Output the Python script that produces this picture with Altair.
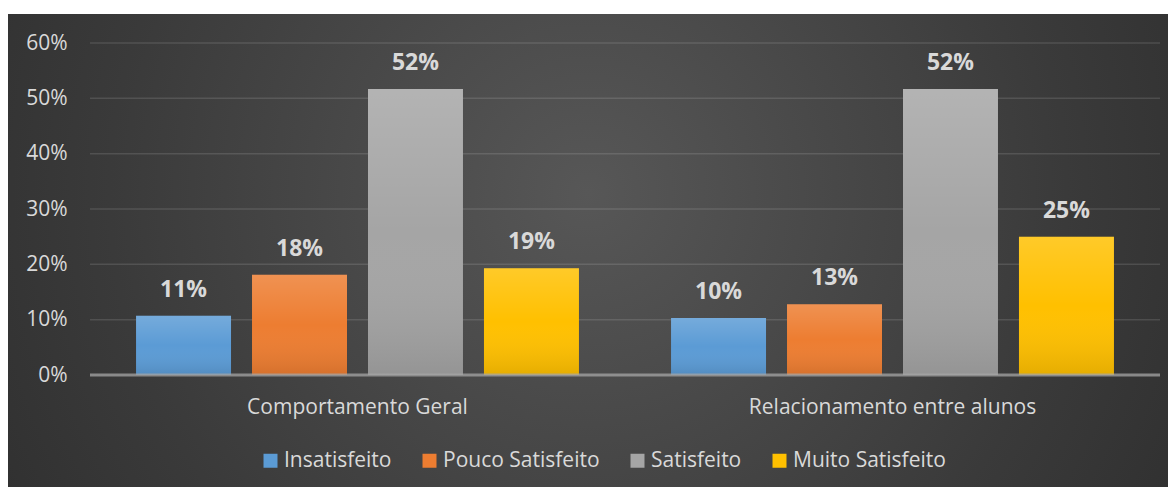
import altair as alt
import pandas as pd

categories = ["Comportamento Geral", "Relacionamento entre alunos"]
series = ["Insatisfeito", "Pouco Satisfeito", "Satisfeito", "Muito Satisfeito"]
geral = [0.107, 0.181, 0.517, 0.193]
relac = [0.103, 0.128, 0.517, 0.250]
colors = ["#5b9bd5", "#ed7d31", "#a5a5a5", "#ffc000"]
y_ticks = [0.0, 0.1, 0.2, 0.3, 0.4, 0.5, 0.6]
grid_ticks = [0.1, 0.2, 0.3, 0.4, 0.5, 0.6]
zero_line = [0.0]

rows = []
for cat, vals in zip(categories, [geral, relac]):
    for s, v in zip(series, vals):
        rows.append({"categoria": cat, "serie": s, "valor": v})
df = pd.DataFrame(rows)

W, H = 1070, 332
TXT = "#d9d9d9"

yscale = alt.Scale(domain=[0, 0.6], nice=False)
yaxis = alt.Axis(title="", format=".0%", values=y_ticks, labelFontSize=21,
                 labelColor=TXT, labelPadding=23, domain=False, ticks=False,
                 grid=False, zindex=1)
xenc = alt.X("categoria:N", sort=categories,
             scale=alt.Scale(paddingInner=0, paddingOuter=0),
             axis=alt.Axis(title="", labelAngle=0, labelFontSize=21, labelColor=TXT,
                           labelPadding=21, labelLimit=600, domain=False, ticks=False,
                           grid=False, zindex=1))
xoff = alt.XOffset("serie:N", sort=series,
                   scale=alt.Scale(paddingInner=0.181, paddingOuter=0.397))

bg = alt.Chart(alt.Data(values=[{"a": 1}])).mark_rect(
    color=alt.RadialGradient(
        gradient="radial",
        stops=[alt.GradientStop(color="#575757", offset=0),
               alt.GradientStop(color="#3a3a3a", offset=0.55),
               alt.GradientStop(color="#262626", offset=1)],
        x1=0.5, y1=0.45, r1=0, x2=0.5, y2=0.45, r2=0.75)
).encode(x=alt.value(-82), x2=alt.value(W + 8), y=alt.value(-29), y2=alt.value(444))

grid = alt.Chart(pd.DataFrame({"tick": grid_ticks})).mark_rule(
    color="rgba(255,255,255,0.12)", strokeWidth=1.5
).encode(y=alt.Y("tick:Q", scale=yscale, axis=yaxis))

bars = alt.Chart(df).mark_bar().encode(
    x=xenc, xOffset=xoff,
    y=alt.Y("valor:Q", scale=yscale, axis=yaxis),
    color=alt.Color("serie:N", sort=series,
                    scale=alt.Scale(domain=series, range=colors),
                    legend=alt.Legend(title=None, orient="none", legendX=170, legendY=407,
                                      direction="horizontal", symbolType="square",
                                      symbolSize=196, symbolStrokeWidth=0,
                                      labelFontSize=21, labelColor=TXT, labelOffset=3,
                                      columnPadding=27, padding=0))
)

overlay = alt.Chart(df).mark_bar(
    color=alt.LinearGradient(
        gradient="linear",
        stops=[alt.GradientStop(color="rgba(255,255,255,0.16)", offset=0),
               alt.GradientStop(color="rgba(255,255,255,0)", offset=0.5),
               alt.GradientStop(color="rgba(0,0,0,0.1)", offset=1)],
        x1=0, x2=0, y1=0, y2=1)
).encode(x=xenc, xOffset=xoff, y=alt.Y("valor:Q", scale=yscale, axis=yaxis))

zero = alt.Chart(pd.DataFrame({"zero": zero_line})).mark_rule(
    color="#a6a6a6", strokeWidth=3, opacity=0.75
).encode(y=alt.Y("zero:Q", scale=yscale, axis=yaxis))

labels = alt.Chart(df).mark_text(
    fontSize=23, fontWeight="bold", color=TXT, dy=-19, baseline="alphabetic"
).encode(x=xenc, xOffset=xoff, y=alt.Y("valor:Q", scale=yscale, axis=yaxis),
         text=alt.Text("valor:Q", format=".0%"))

chart = alt.layer(bg, grid, bars, overlay, zero, labels).properties(
    width=W, height=H,
    padding={"left": 0, "top": 6, "right": 0, "bottom": 0},
    background="white"
).configure_view(strokeWidth=0).configure(font="Open Sans")

chart.save("out.html", embed_options={"renderer": "svg", "actions": False})
